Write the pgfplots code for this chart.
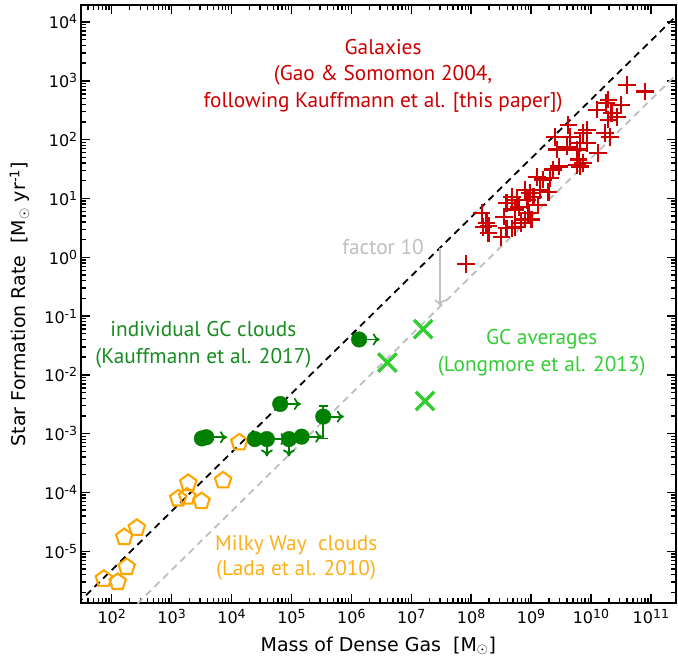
\documentclass[border=0pt]{standalone}
\usepackage{fontspec}
\setmainfont{DejaVu Sans}
\newfontfamily\annfont{PT Sans}
\usepackage{pgfplots}
\pgfplotsset{compat=1.18}
\usetikzlibrary{arrows.meta}
\definecolor{galred}{RGB}{204,0,0}
\definecolor{mworange}{RGB}{255,165,0}
\definecolor{mwtext}{RGB}{253,175,25}
\definecolor{gcgreen}{RGB}{0,128,0}
\definecolor{gctext}{RGB}{20,140,30}
\definecolor{avglime}{RGB}{50,205,50}
\definecolor{lgray}{RGB}{190,190,190}
\newcommand\tenpow[1]{10\raisebox{5pt}{\fontsize{12.5}{13}\selectfont #1}}
\pgfplotstableread{
M SFR
8.2e7 0.76
1.5e8 5.6
1.8e8 3.8
1.95e8 3.4
1.6e8 3.3
1.95e8 2.6
3.2e8 2.2
3.5e8 4.9
4.8e8 3.1
5.4e8 3.3
3.9e8 8.3
4.8e8 10.7
5.8e8 9.5
5.4e8 6.5
6.2e8 7.2
7.9e8 14
8.7e8 9.5
9.1e8 5.6
7.9e8 4.4
1.02e9 4.4
1.1e9 10.7
1.3e9 7.8
1.4e9 14
9.5e8 12.3
1.6e9 21
2.1e9 22
1.95e9 13
2.3e9 31
2.9e9 35
2.7e9 68
2.5e9 112
4.2e9 178
4.5e9 112
4.0e9 76
5.8e9 68
6.6e9 87
7.4e9 129
8.5e9 148
6.2e9 46
5.8e9 37
6.6e9 35
7.4e9 40
8.5e9 87
1.3e10 59
1.7e10 129
2.1e10 112
1.95e10 219
2.2e10 282
1.26e10 324
3.2e10 389
1.8e10 417
2.7e10 245
1.26e9 23
4.0e10 851
7.9e10 661
1.95e10 479
3.9e8 3.1
6.9e8 3.8
}\galaxies
\pgfplotstableread{
M SFR
74 3.4e-6
126 3.0e-6
178 5.4e-6
162 1.74e-5
263 2.5e-5
1290 7.9e-5
1820 8.5e-5
3160 7.1e-5
1900 1.45e-4
7240 1.6e-4
1.35e4 7.1e-4
}\milkyway
\pgfplotstableread{
M SFR
1.35e6 0.040
6.5e4 3.2e-3
3.2e3 8.3e-4
3.8e3 8.7e-4
2.45e4 8.1e-4
3.9e4 8.1e-4
9.1e4 8.1e-4
1.48e5 8.9e-4
}\gcclouds
\pgfplotstableread{
M SFR
1.58e7 0.060
4.0e6 0.0162
1.7e7 3.6e-3
}\gcavg
\begin{document}
\begin{tikzpicture}
\useasboundingbox (0,0) rectangle (678pt,662pt);
\begin{axis}[
  at={(80.7pt,59pt)}, anchor=south west,
  scale only axis, width=595.3pt, height=598pt,
  xmode=log, ymode=log, log basis x=10, log basis y=10,
  xmin=30.4, xmax=2.63e11, ymin=1.32e-6, ymax=1.95e4,
  axis line style={line width=1.8pt},
  tick align=inside, tick pos=both,
  major tick length=9pt, minor tick length=5pt,
  every tick/.style={black, line width=1.4pt},
  font=\fontsize{16}{19}\selectfont,
  xticklabel={\tenpow{\pgfmathparse{int(round(\tick))}\pgfmathresult}},
  yticklabel={\tenpow{\pgfmathparse{int(round(\tick))}\pgfmathresult}},
  xticklabel style={yshift=-3pt},
  xlabel={Mass of Dense Gas\ \ [M$_\odot$]},
  ylabel={Star Formation Rate\ \ [M$_\odot$ yr\textsuperscript{-1}]},
  xlabel style={at={(axis description cs:0.5,-0.0803)}, anchor=base, font=\fontsize{19}{22}\selectfont},
  ylabel style={at={(axis description cs:-0.0925,0.5)}, anchor=base, font=\fontsize{19}{22}\selectfont},
]
% relations
\addplot[lgray, line width=1.8pt, dash pattern=on 7pt off 5pt] coordinates {(10,4.79e-8) (1e12,4.79e3)};
\addplot[black, line width=1.8pt, dash pattern=on 7pt off 5pt] coordinates {(10,4.79e-7) (1e12,4.79e4)};
% factor 10 arrow
\addplot[lgray, line width=1.6pt, -{To[length=6pt,width=11pt]}] coordinates {(3.0e7,1.45) (3.0e7,0.15)};
% galaxies
\addplot[only marks, mark=+, mark size=8.8pt, galred, mark options={line width=2.2pt}] table[x=M,y=SFR] {\galaxies};
% Milky Way clouds
\addplot[only marks, mark=pentagon, mark size=8.6pt, mark options={draw=mworange, fill=none, line width=2.1pt}] table[x=M,y=SFR] {\milkyway};
% GC cloud limits
\pgfplotsset{gcarrow/.style={gcgreen, line width=1.8pt, -{To[length=7pt,width=12pt]}}}
\addplot[gcarrow] coordinates {(1.35e6,0.040) (2.98e6,0.040)};
\addplot[gcarrow] coordinates {(6.5e4,3.2e-3) (1.44e5,3.2e-3)};
\addplot[gcarrow] coordinates {(3.4e5,1.95e-3) (7.5e5,1.95e-3)};
\addplot[gcarrow] coordinates {(3.8e3,8.7e-4) (8.4e3,8.7e-4)};
\addplot[gcarrow] coordinates {(3.9e4,8.1e-4) (8.6e4,8.1e-4)};
\addplot[gcarrow] coordinates {(1.48e5,8.9e-4) (3.27e5,8.9e-4)};
\addplot[gcarrow] coordinates {(3.9e4,8.1e-4) (3.9e4,4.1e-4)};
\addplot[gcarrow] coordinates {(9.1e4,8.1e-4) (9.1e4,4.1e-4)};
% GC clouds
\addplot[only marks, mark=*, mark size=7.8pt, gcgreen] table[x=M,y=SFR] {\gcclouds};
\addplot[gcgreen, only marks, mark=*, mark size=7.8pt,
  error bars/.cd, y dir=both, y explicit,
  error bar style={line width=1.8pt},
  error mark options={rotate=90, mark size=4.5pt, line width=1.8pt}]
  coordinates {(3.4e5,1.95e-3) += (0,1.0e-3) -= (0,1.12e-3)};
% GC averages
\addplot[only marks, mark=x, mark size=13pt, avglime, mark options={line width=3.4pt}] table[x=M,y=SFR] {\gcavg};
% texts
\node[galred, align=center, font=\annfont\fontsize{21.3}{26.5}\selectfont] at (axis cs:3.39e6,1.22e3) {Galaxies\\(Gao \& Somomon 2004,\\following Kauffmann et al. [this paper])};
\node[gctext, align=center, font=\annfont\fontsize{21.3}{27}\selectfont] at (axis cs:3.4e3,0.0324) {individual GC clouds\\(Kauffmann et al. 2017)};
\node[avglime, align=center, font=\annfont\fontsize{21.3}{27.5}\selectfont] at (axis cs:1.51e9,0.0236) {GC averages\\(Longmore et al. 2013)};
\node[mwtext, align=center, font=\annfont\fontsize{21.3}{25}\selectfont] at (axis cs:1.2e5,7.9e-6) {Milky Way\ \ clouds\\(Lada et al. 2010)};
\node[lgray, font=\annfont\fontsize{21.3}{25}\selectfont] at (axis cs:3.39e6,1.51) {factor 10};
\end{axis}
\end{tikzpicture}
\end{document}
